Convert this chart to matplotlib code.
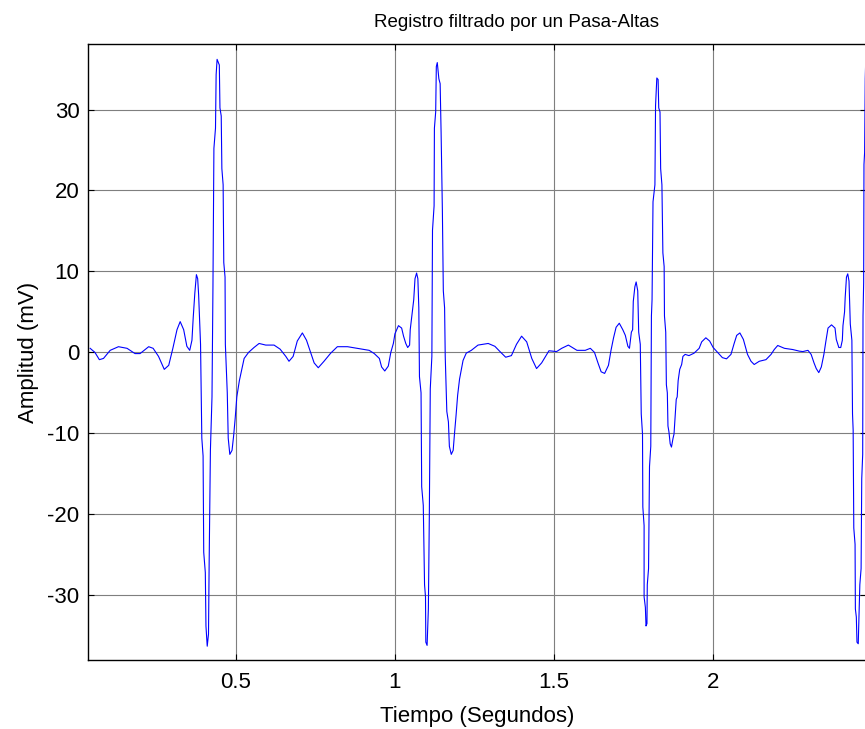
import matplotlib
matplotlib.use("Agg")
import matplotlib.pyplot as plt

# registro de ECG despues del filtro pasa-altas (s, mV)
tiempo = [
    0.042, 0.057, 0.071, 0.084, 0.105, 0.131, 0.158, 0.183, 0.199, 0.226,
    0.240, 0.257, 0.275, 0.289, 0.302, 0.315, 0.325, 0.336, 0.346, 0.355,
    0.362, 0.366, 0.371, 0.376, 0.380, 0.383, 0.389, 0.393, 0.397, 0.399,
    0.404, 0.406, 0.410, 0.414, 0.416, 0.420, 0.425, 0.428, 0.431, 0.436,
    0.438, 0.441, 0.445, 0.448, 0.450, 0.454, 0.456, 0.460, 0.462, 0.466,
    0.467, 0.473, 0.476, 0.481, 0.488, 0.493, 0.498, 0.503, 0.511, 0.519,
    0.526, 0.540, 0.557, 0.573, 0.594, 0.620, 0.639,
    0.657, 0.667, 0.680, 0.693, 0.709, 0.722, 0.735, 0.746, 0.759, 0.777,
    0.798, 0.819, 0.851, 0.882, 0.919, 0.935, 0.951, 0.958, 0.968, 0.979,
    0.987, 0.995, 1.000, 1.011, 1.021, 1.027, 1.034, 1.040, 1.046, 1.048,
    1.056, 1.059, 1.063, 1.068, 1.072, 1.075, 1.077, 1.082, 1.084, 1.089,
    1.093, 1.096, 1.097, 1.101, 1.105, 1.108, 1.111, 1.116, 1.118, 1.123,
    1.124, 1.128, 1.130, 1.133, 1.138, 1.142, 1.145, 1.149, 1.152, 1.156,
    1.158, 1.163, 1.168, 1.171, 1.177, 1.183, 1.187, 1.192, 1.197, 1.203,
    1.214, 1.224, 1.240, 1.261, 1.293, 1.314, 1.330, 1.348, 1.366, 1.382,
    1.398, 1.414, 1.430, 1.445, 1.461, 1.484, 1.508, 1.524, 1.545, 1.572,
    1.598, 1.614, 1.627, 1.638, 1.648, 1.659, 1.671, 1.679, 1.687, 1.695,
    1.705, 1.716, 1.724, 1.732, 1.737, 1.743, 1.747, 1.749, 1.754, 1.758,
    1.763, 1.766, 1.771, 1.774, 1.778, 1.779, 1.783, 1.783, 1.787, 1.789,
    1.792, 1.793, 1.797, 1.800, 1.804, 1.806, 1.808, 1.811, 1.817, 1.819,
    1.823, 1.827, 1.829, 1.833, 1.835, 1.839, 1.842, 1.846, 1.847, 1.851,
    1.853, 1.856, 1.858, 1.861, 1.865, 1.869, 1.874, 1.877, 1.880, 1.884,
    1.887, 1.890, 1.895, 1.901, 1.905, 1.912, 1.924, 1.940, 1.956, 1.964,
    1.977, 1.989, 2.000, 2.014, 2.029, 2.042, 2.056, 2.066, 2.074, 2.084,
    2.095, 2.108, 2.119, 2.129, 2.145, 2.166, 2.182, 2.192, 2.203, 2.224,
    2.250, 2.271, 2.282, 2.298, 2.308, 2.317, 2.324, 2.332, 2.340, 2.348,
    2.354, 2.361, 2.372, 2.383, 2.387, 2.395, 2.401, 2.406, 2.408, 2.413,
    2.415, 2.419, 2.423, 2.427, 2.431, 2.436, 2.438, 2.440, 2.442, 2.446,
    2.447, 2.450, 2.452, 2.456, 2.461, 2.465, 2.467, 2.470, 2.471, 2.473,
    2.474, 2.476, 2.478, 2.480,
]
amplitud = [
    0.5, 0.0, -0.9, -0.75, 0.25, 0.7, 0.5, -0.15, -0.15, 0.7,
    0.5, -0.5, -2.1, -1.6, 0.5, 2.8, 3.8, 2.8, 0.75, 0.25,
    1.5, 4.3, 7.3, 9.6, 9.1, 7.1, 1.0, -10.6, -12.8, -24.7,
    -27.2, -33.8, -36.3, -34.8, -26.2, -12.1, -5.5, 8.1, 25.2, 27.7,
    34.3, 36.2, 35.8, 35.5, 30.2, 29.2, 22.7, 20.7, 11.1, 9.3,
    1.0, -5.0, -10.6, -12.6, -12.1, -10.3, -8.1, -5.5, -3.5, -2.0,
    -0.75, 0.0, 0.6, 1.1, 0.9, 0.9, 0.4,
    -0.5, -1.1, -0.5, 1.4, 2.4, 1.5, 0.0, -1.3, -1.9, -1.1,
    -0.1, 0.7, 0.7, 0.5, 0.25, -0.15, -0.75, -1.8, -2.3, -1.7,
    0.0, 1.1, 2.3, 3.3, 3.0, 2.0, 1.1, 0.6, 0.9, 2.8,
    5.5, 6.5, 9.1, 9.8, 9.1, 5.5, -3.0, -5.0, -16.6, -18.9,
    -28.7, -30.2, -35.8, -36.2, -31.7, -20.2, -4.5, -0.5, 15.1, 18.1,
    27.7, 29.7, 35.3, 35.8, 33.8, 33.2, 27.2, 17.6, 7.6, 5.5,
    -0.5, -7.3, -8.6, -11.6, -12.6, -12.1, -10.1, -7.8, -5.3, -3.3,
    -1.0, -0.1, 0.25, 0.9, 1.1, 0.75, 0.1, -0.6, -0.4, 1.0,
    2.0, 1.3, -0.75, -2.0, -1.3, 0.2, 0.1, 0.5, 0.9, 0.25,
    0.25, 0.5, 0.0, -1.3, -2.4, -2.6, -1.6, 0.25, 1.8, 3.1,
    3.6, 2.8, 2.1, 0.75, 0.5, 2.5, 2.8, 6.3, 8.1, 8.7,
    7.6, 2.5, 1.0, -7.6, -10.1, -19.1, -21.4, -30.2, -31.5, -33.8,
    -33.5, -28.7, -26.7, -14.1, -11.6, 4.5, 6.5, 18.6, 20.7, 30.5,
    33.9, 33.7, 30.2, 29.7, 22.7, 20.7, 12.3, 10.6, 4.5, 2.5,
    -4.0, -5.0, -9.1, -9.8, -11.3, -11.7, -10.6, -10.1, -8.3, -5.8,
    -5.5, -3.5, -2.1, -1.5, -0.5, -0.25, -0.4, -0.1, 0.5, 1.3,
    1.8, 1.4, 0.6, 0.0, -0.65, -0.8, -0.25, 1.1, 2.1, 2.4,
    1.6, -0.25, -1.1, -1.5, -1.1, -0.9, -0.25, 0.35, 0.85, 0.5,
    0.35, 0.15, 0.1, 0.25, -0.25, -1.3, -2.0, -2.5, -1.8, -0.25,
    1.3, 3.0, 3.4, 3.0, 1.6, 0.6, 0.6, 1.5, 3.3, 5.0,
    6.8, 9.3, 9.7, 8.8, 3.5, 1.5, -7.6, -9.6, -21.7, -23.7,
    -31.7, -32.7, -35.8, -36.0, -28.7, -26.7, -15.6, -12.6, 4.5, 8.6,
    23.2, 24.7, 33.8, 36.8,
]

xticks = [0.5, 1, 1.5, 2]
xticklabels = ["0.5", "1", "1.5", "2"]
yticks = [-30, -20, -10, 0, 10, 20, 30]

plt.rcParams['font.family'] = ['Liberation Sans', 'DejaVu Sans']
plt.rcParams['axes.unicode_minus'] = False

fig = plt.figure(figsize=(8.65, 7.29), dpi=100)
ax = fig.add_axes([0.1014, 0.0947, 0.8998, 0.845])

ax.plot(tiempo, amplitud, color=(0, 0, 1), linewidth=0.8)

ax.set_xlim(0.0344, 2.4805)
ax.set_ylim(-38.0, 38.1)
ax.set_xticks(xticks)
ax.set_xticklabels(xticklabels)
ax.set_yticks(yticks)
ax.grid(True, color='#7f7f7f', linestyle='-', linewidth=0.8)
ax.set_axisbelow(True)
ax.tick_params(direction='in', top=True, right=True, length=4, width=0.8,
               labelsize=16, pad=6)
ax.tick_params(axis='x', pad=9)
for s in ax.spines.values():
    s.set_linewidth(1.0)

ax.set_title("Registro filtrado por un Pasa-Altas", fontsize=13.5, x=0.551, pad=12)
ax.set_xlabel("Tiempo (Segundos)", fontsize=16, labelpad=9)
ax.set_ylabel("Amplitud (mV)", fontsize=16, labelpad=6)

fig.savefig("out.png", dpi=100)
